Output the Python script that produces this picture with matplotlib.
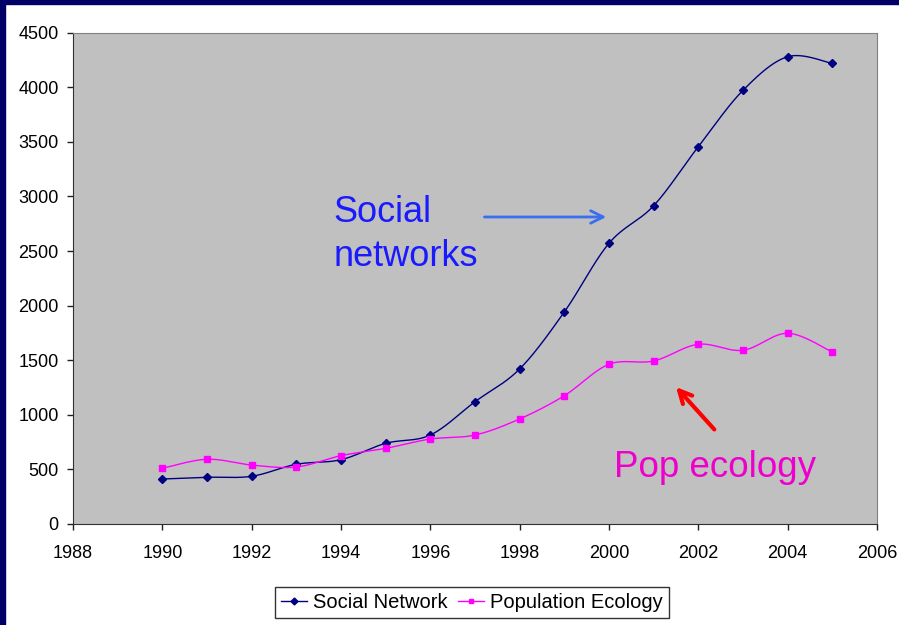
import numpy as np
import matplotlib
matplotlib.use('Agg')
import matplotlib.pyplot as plt
from matplotlib.patches import Rectangle

plt.rcParams['font.family'] = ['Liberation Sans', 'DejaVu Sans']

# ---------------------- Data ----------------------

years = [1990, 1991, 1992, 1993, 1994, 1995, 1996, 1997,
         1998, 1999, 2000, 2001, 2002, 2003, 2004, 2005]
social_network = [412, 428, 437, 547, 589, 739, 815, 1120,
                  1420, 1942, 2571, 2915, 3456, 3972, 4280, 4219]
population_ecology = [510, 593, 540, 522, 626, 693, 778, 815,
                      962, 1175, 1463, 1493, 1646, 1591, 1747, 1575]

x_ticks = [1988, 1990, 1992, 1994, 1996, 1998, 2000, 2002, 2004, 2006]
y_ticks = [0, 500, 1000, 1500, 2000, 2500, 3000, 3500, 4000, 4500]

# ---------------------- Smoothing (Excel-style bezier) ----------------------

def smooth_curve(xs, ys, steps=30):
    pts = np.column_stack([xs, ys]).astype(float)
    n = len(pts)
    out = []
    for i in range(n - 1):
        p0 = pts[i]
        p3 = pts[i + 1]
        prev = pts[i - 1] if i > 0 else pts[i]
        nxt = pts[i + 2] if i + 2 < n else pts[i + 1]
        p1 = p0 + (p3 - prev) / 6.0
        p2 = p3 - (nxt - p0) / 6.0
        t = np.linspace(0, 1, steps)[:, None]
        seg = ((1 - t) ** 3) * p0 + 3 * ((1 - t) ** 2) * t * p1 \
            + 3 * (1 - t) * t ** 2 * p2 + t ** 3 * p3
        out.append(seg if i == 0 else seg[1:])
    out = np.vstack(out)
    return out[:, 0], out[:, 1]

# ---------------------- Plot ----------------------

fig = plt.figure(figsize=(8.99, 6.25), dpi=100)
ax = fig.add_axes([0.0812, 0.1616, 0.8943, 0.7861])
ax.set_facecolor('#C0C0C0')

sn_color = '#000080'
pe_color = '#FF00FF'

sx, sy = smooth_curve(years, social_network)
px, py = smooth_curve(years, population_ecology)
ax.plot(sx, sy, color=sn_color, lw=1)
ax.plot(px, py, color=pe_color, lw=1)
ax.plot(years, social_network, ls='none', marker='D', ms=4, color=sn_color)
ax.plot(years, population_ecology, ls='none', marker='s', ms=4.5, color=pe_color)

# legend handles
h1, = ax.plot([], [], color=sn_color, lw=1, marker='D', ms=3.5)
h2, = ax.plot([], [], color=pe_color, lw=1, marker='s', ms=3.5)

ax.set_xlim(1988, 2006)
ax.set_ylim(0, 4500)
ax.set_xticks(x_ticks)
ax.set_yticks(y_ticks)
ax.tick_params(axis='both', direction='out', length=4.3, width=1,
               labelsize=13, color='#202020')
ax.tick_params(axis='x', pad=11)
ax.tick_params(axis='y', pad=6)

for side in ['top', 'right']:
    ax.spines[side].set_color('#808080')
for side in ['left', 'bottom']:
    ax.spines[side].set_color('#303030')

# annotations
ax.text(1993.84, 2770, 'Social', color='#1A1AFF', fontsize=26, va='baseline')
ax.text(1993.84, 2360, 'networks', color='#1A1AFF', fontsize=26, va='baseline')
ax.annotate('', xy=(2000.0, 2812), xytext=(1997.15, 2812),
            arrowprops=dict(arrowstyle='->,head_length=0.9,head_width=0.45',
                            color='#3A6EF0', lw=2))
ax.text(2000.11, 428, 'Pop ecology', color='#EE00CC', fontsize=26.5,
        va='baseline')
ax.annotate('', xy=(2001.46, 1273), xytext=(2002.40, 847),
            arrowprops=dict(arrowstyle='->,head_length=0.9,head_width=0.45',
                            color='#FF0000', lw=3))

leg = fig.legend([h1, h2], ['Social Network', 'Population Ecology'],
                 loc='center', bbox_to_anchor=(0.525, 0.036), ncol=2,
                 fontsize=14.5, frameon=True, fancybox=False, shadow=False,
                 handlelength=1.3, handletextpad=0.3, columnspacing=0.5,
                 borderpad=0.3, borderaxespad=0)
leg.get_frame().set_edgecolor('black')
leg.get_frame().set_linewidth(1)

# navy slide frame
fig.patches.append(Rectangle((0, 1 - 4 / 625), 1, 4 / 625,
                             transform=fig.transFigure, color='#000066'))
fig.patches.append(Rectangle((0, 0), 5 / 899, 1,
                             transform=fig.transFigure, color='#000066'))

fig.savefig('out.png', dpi=100)
